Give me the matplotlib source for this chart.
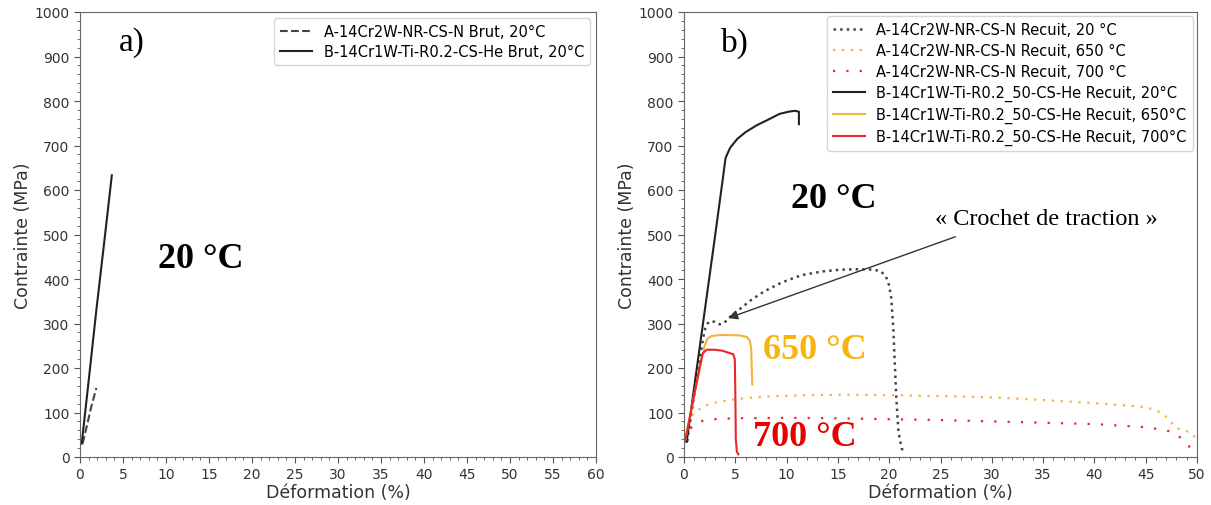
import matplotlib
matplotlib.use("Agg")
import matplotlib.pyplot as plt
from matplotlib.ticker import MultipleLocator

# ---- Data (panel a: as-received "Brut") ----
a_A20_x = [0.3, 0.8, 1.3, 1.9]
a_A20_y = [30, 70, 112, 155]
a_B20_x = [0.2, 1.0, 1.9, 2.8, 3.7]
a_B20_y = [30, 170, 330, 480, 633]

# ---- Data (panel b: annealed "Recuit") ----
b_A20_x = [0.3, 1.0, 1.6, 2.0, 2.4, 3.0, 3.5, 3.9, 4.5, 5.2, 6.5, 7.8, 9.5, 11.5, 13.5, 15.3, 17.0, 18.5, 19.2, 19.7, 20.0, 20.2, 20.4, 20.55, 20.7, 20.9, 21.2, 21.5]
b_A20_y = [35, 140, 230, 285, 304, 304, 298, 301, 315, 328, 352, 372, 392, 409, 417, 421, 422, 421, 417, 405, 385, 357, 290, 207, 130, 58, 20, 8]
b_A650_x = [0.2, 0.5, 1.0, 2.0, 3.0, 5.0, 8.0, 12.0, 16.0, 20.0, 25.0, 30.0, 35.0, 40.0, 43.0, 45.0, 46.0, 46.8, 47.3, 48.0, 49.0, 49.5, 50.0]
b_A650_y = [35, 80, 100, 115, 122, 130, 136, 139, 140, 139, 137, 134, 128, 121, 116, 112, 105, 95, 82, 65, 58, 52, 40]
b_A700_x = [0.3, 0.6, 0.9, 1.5, 3.0, 5.0, 10.0, 15.0, 20.0, 25.0, 30.0, 35.0, 40.0, 45.0, 47.0, 47.8, 48.7, 49.2, 49.5]
b_A700_y = [35, 62, 72, 80, 85, 87, 88, 87, 85, 83, 80, 77, 74, 67, 60, 54, 38, 25, 14]
b_B20_x = [0.26, 1.0, 2.0, 3.0, 3.8, 4.05, 4.5, 5.2, 6.0, 7.05, 8.2, 9.3, 10.2, 10.8, 11.2, 11.2]
b_B20_y = [34, 158, 325, 492, 628, 672, 695, 715, 730, 745, 758, 771, 776, 778, 776, 748]
b_B650_x = [0.1, 1.0, 2.0, 2.3, 2.7, 3.5, 4.5, 5.5, 6.1, 6.4, 6.55, 6.6, 6.65]
b_B650_y = [36, 140, 250, 266, 272, 274, 274, 273, 270, 262, 245, 200, 163]
b_B700_x = [0.1, 1.0, 1.8, 2.2, 3.0, 3.7, 4.4, 4.8, 4.95, 5.0, 5.05, 5.15, 5.3]
b_B700_y = [35, 140, 232, 241, 241, 239, 234, 231, 220, 150, 40, 12, 6]

lab_a = ["A-14Cr2W-NR-CS-N Brut, 20°C", "B-14Cr1W-Ti-R0.2-CS-He Brut, 20°C"]
lab_b = ["A-14Cr2W-NR-CS-N Recuit, 20 °C",
         "A-14Cr2W-NR-CS-N Recuit, 650 °C",
         "A-14Cr2W-NR-CS-N Recuit, 700 °C",
         "B-14Cr1W-Ti-R0.2_50-CS-He Recuit, 20°C",
         "B-14Cr1W-Ti-R0.2_50-CS-He Recuit, 650°C",
         "B-14Cr1W-Ti-R0.2_50-CS-He Recuit, 700°C"]

c_gray = "#444444"
c_black = "#222222"
c_orange = "#f2b33d"
c_red = "#e8262b"
c_txt_orange = "#f5b50c"
c_txt_red = "#e60000"
serif = "Liberation Serif"

fig = plt.figure(figsize=(12.11, 5.06), dpi=100)
axa = fig.add_axes([80/1211, 1-458/506, (596-80)/1211, (458-13)/506])
axb = fig.add_axes([684/1211, 1-458/506, (1197-684)/1211, (458-13)/506])

def style(ax, xmax):
    ax.set_xlim(0, xmax)
    ax.set_ylim(0, 1000)
    ax.xaxis.set_major_locator(MultipleLocator(5))
    ax.xaxis.set_minor_locator(MultipleLocator(1))
    ax.yaxis.set_major_locator(MultipleLocator(100))
    ax.yaxis.set_minor_locator(MultipleLocator(20))
    for s in ax.spines.values():
        s.set_color("#666666")
    ax.tick_params(which="both", colors="#555555", labelcolor="#333333", labelsize=10)
    ax.tick_params(which="major", length=4)
    ax.tick_params(which="minor", length=2.5)
    ax.set_xlabel("Déformation (%)", fontsize=12.5, color="#333333", labelpad=1)
    ax.set_ylabel("Contrainte (MPa)", fontsize=12.5, color="#333333", labelpad=2)

# Panel a
axa.plot(a_A20_x, a_A20_y, ls="--", color=c_gray, lw=1.5, label=lab_a[0])
axa.plot(a_B20_x, a_B20_y, ls="-", color=c_black, lw=1.5, label=lab_a[1])
style(axa, 60)
axa.legend(loc="upper right", fontsize=10.5, frameon=True, fancybox=True,
           borderaxespad=0.4, handlelength=2.2, labelspacing=0.4)
axa.text(6.0, 934, "a)", family=serif, fontsize=24, ha="center", va="center")
axa.text(14.0, 445, "20 °C", family=serif, fontsize=26, fontweight="bold", ha="center", va="center")

# Panel b
axb.plot(b_A20_x, b_A20_y, ls=":", color=c_gray, lw=1.8, label=lab_b[0])
axb.plot(b_A650_x, b_A650_y, ls=(0, (1, 3)), color=c_orange, lw=1.6, label=lab_b[1])
axb.plot(b_A700_x, b_A700_y, ls=(0, (1, 5)), color=c_red, lw=1.6, label=lab_b[2])
axb.plot(b_B20_x, b_B20_y, ls="-", color=c_black, lw=1.5, label=lab_b[3])
axb.plot(b_B650_x, b_B650_y, ls="-", color=c_orange, lw=1.5, label=lab_b[4])
axb.plot(b_B700_x, b_B700_y, ls="-", color=c_red, lw=1.5, label=lab_b[5])
style(axb, 50)
axb.legend(loc="upper right", fontsize=10.5, frameon=True, fancybox=True,
           borderaxespad=0.3, handlelength=2.2, labelspacing=0.4)
axb.text(5.0, 931, "b)", family=serif, fontsize=24, ha="center", va="center")
axb.text(14.6, 580, "20 °C", family=serif, fontsize=26, fontweight="bold", ha="center", va="center")
axb.text(12.75, 241, "650 °C", family=serif, fontsize=26, fontweight="bold", color=c_txt_orange, ha="center", va="center")
axb.text(11.8, 47, "700 °C", family=serif, fontsize=26, fontweight="bold", color=c_txt_red, ha="center", va="center")
axb.text(35.3, 535, "« Crochet de traction »", family=serif, fontsize=17.5, ha="center", va="center")
axb.annotate("", xy=(4.05, 310), xytext=(26.7, 497),
             arrowprops=dict(arrowstyle="-|>", color="#333333", lw=1.0, mutation_scale=14))

fig.savefig("out.png", dpi=100)
